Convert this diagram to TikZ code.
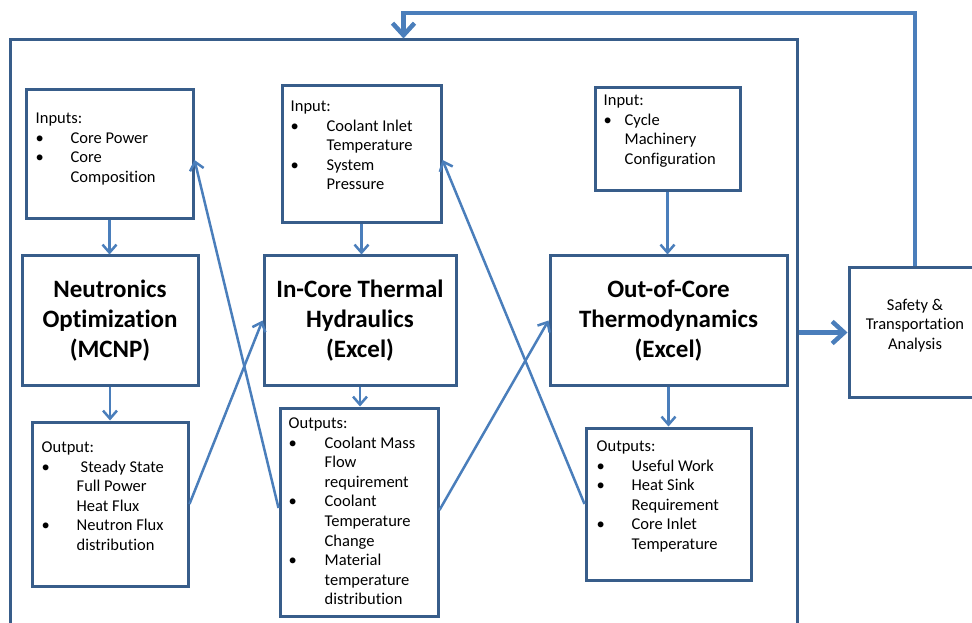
\documentclass[tikz,border=0pt]{standalone}
\usepackage{fontspec}
\setmainfont{Carlito}[Ligatures=CommonOff]
\usetikzlibrary{arrows.meta}
\definecolor{boxblue}{HTML}{385D8A}
\definecolor{linkblue}{HTML}{4A7EBB}
\newcommand{\pts}{\fontsize{16.5}{19.6}\selectfont}
\newcommand{\hds}{\fontsize{25}{30}\selectfont\bfseries}
\newcommand{\blist}[2]{\begin{tabular}{@{}p{#1}@{}l@{}}#2\end{tabular}}

\begin{document}
\begin{tikzpicture}[
        x = 1pt, y = 1pt,
        > = Straight Barb,
  box/.style = {draw=boxblue, line width=3pt, inner sep=0pt},
 head/.style = {font=\hds, align=center},
 list/.style = {font=\pts, anchor=north west, inner sep=0pt},
 link/.style = {draw=linkblue, line width=2.5pt,
                -{Straight Barb[length=8pt,width=14pt]}},
  big/.style = {draw=linkblue, line width=4.5pt,
                -{Straight Barb[length=12pt,width=22pt]}}
                        ]
\useasboundingbox (0,0) rectangle (972,622);
\clip (0,0) rectangle (972,622);
% frame
\node[box, minimum width=787, minimum height=602] (frame) at (403.5,281) {};
% inputs
\node[box, minimum width=167, minimum height=129] (in1) at (109.5,467.5) {};
\node[box, minimum width=159, minimum height=137] (in2) at (361.5,467.5) {};
\node[box, minimum width=145, minimum height=103] (in3) at (667.5,482.5) {};
\node[list] (in1t) at ([shift={(11,-21)}]in1.north west) {\blist{35pt}{%
    \multicolumn{2}{@{}l@{}}{Inputs:}\\
    \textbullet & Core Power\\
    \textbullet & Core\\
                & Composition}};
\node[list] (in2t) at ([shift={(10,-13)}]in2.north west) {\blist{36pt}{%
    \multicolumn{2}{@{}l@{}}{Input:}\\
    \textbullet & Coolant Inlet\\
                & Temperature\\
    \textbullet & System\\
                & Pressure}};
\node[list] (in3t) at ([shift={(10,-5)}]in3.north west) {\blist{21pt}{%
    \multicolumn{2}{@{}l@{}}{Input:}\\
    \textbullet & Cycle\\
                & Machinery\\
                & Configuration}};
% codes
\node[box, head, minimum width=176, minimum height=129] (neu) at (110,301.5)
    {Neutronics\\Optimization\\(MCNP)};
\node[box, head, minimum width=192, minimum height=129] (thy) at (360,301.5)
    {In-Core Thermal\\Hydraulics\\(Excel)};
\node[box, head, minimum width=237, minimum height=129] (thd) at (668.5,301.5)
    {Out-of-Core\\Thermodynamics\\(Excel)};
% outputs
\node[box, minimum width=156, minimum height=164] (out1) at (110,118) {};
\node[box, minimum width=158, minimum height=208] (out2) at (359,110) {};
\node[box, minimum width=165, minimum height=152] (out3) at (668.5,118) {};
\node[list] (out1t) at ([shift={(11,-18)}]out1.north west) {\blist{35pt}{%
    \multicolumn{2}{@{}l@{}}{Output:}\\
    \textbullet & \hspace{4pt}Steady State\\
                & Full Power\\
                & Heat Flux\\
    \textbullet & Neutron Flux\\
                & distribution}};
\node[list] (out2t) at ([shift={(10,-8)}]out2.north west) {\blist{36pt}{%
    \multicolumn{2}{@{}l@{}}{Outputs:}\\
    \textbullet & Coolant Mass\\
                & Flow\\
                & requirement\\
    \textbullet & Coolant\\
                & Temperature\\
                & Change\\
    \textbullet & Material\\
                & temperature\\
                & distribution}};
\node[list] (out3t) at ([shift={(12,-11)}]out3.north west) {\blist{35pt}{%
    \multicolumn{2}{@{}l@{}}{Outputs:}\\
    \textbullet & Useful Work\\
    \textbullet & Heat Sink\\
                & Requirement\\
    \textbullet & Core Inlet\\
                & Temperature}};
% safety
\node[box, minimum width=132, minimum height=129] (safety) at (915,289.5) {};
\node[font=\pts, align=center] (safetyt) at ([yshift=7]safety.center)
    {Safety \&\\Transportation\\Analysis};
% links
\draw[link] (in1.south) -- (in1.south |- neu.north);
\draw[link] (in2.south) -- (in2.south |- thy.north);
\draw[link] (in3.south) -- (in3.south |- thd.north);
\draw[link] (neu.south) -- (neu.south |- out1.north);
\draw[link] (thy.south) -- (thy.south |- out2.north);
\draw[link] (thd.south) -- (thd.south |- out3.north);
\draw[link] (out1.east) -- (thy.west);
\draw[link] ([yshift=4]out2.west) -- ([yshift=-5.5]in1.east);
\draw[link] ([yshift=2]out2.east) -- (thd.west);
\draw[link] (out3.west) -- ([yshift=-5.5]in2.east);
% safety loop
\coordinate (fb) at (403.5,609);
\draw[big] (frame.east |- safety.west) -- (safety.west);
\draw[big] (safety.north) |- (frame.north |- fb) -- (frame.north);
\end{tikzpicture}
\end{document}
